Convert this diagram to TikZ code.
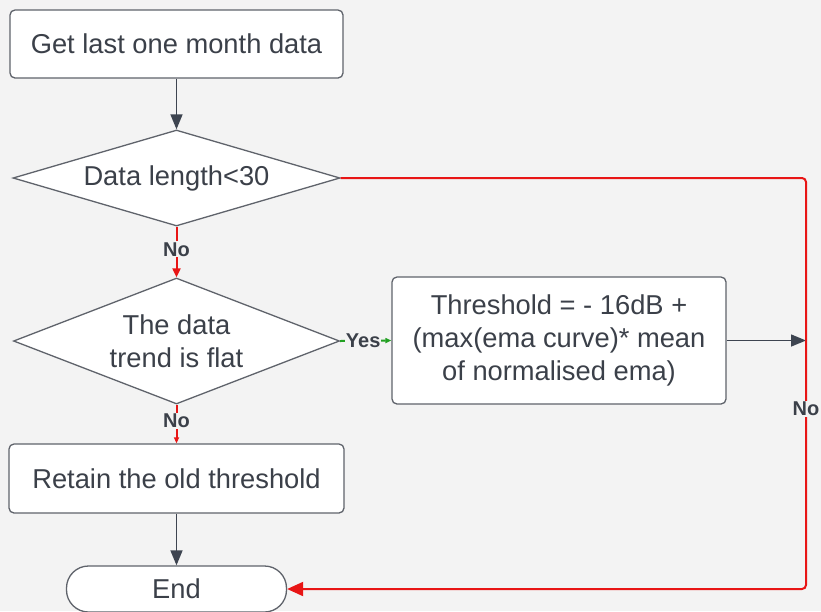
\documentclass[tikz,border=0pt]{standalone}
\usepackage{fontspec}
\setmainfont{Liberation Sans}
\usetikzlibrary{shapes.geometric,arrows.meta}
\definecolor{bg}{HTML}{F3F3F3}
\definecolor{txt}{HTML}{3B4049}
\definecolor{edge}{HTML}{5F636B}
\definecolor{darr}{HTML}{3D4450}
\definecolor{redl}{HTML}{E81515}
\definecolor{greenl}{HTML}{22A022}
\tikzset{
  proc/.style={draw=edge, line width=1.3pt, fill=white, rounded corners=5pt, text=txt, align=center,
    font=\fontsize{27.3}{33}\selectfont, inner sep=0pt},
  dec/.style={draw=edge, line width=1.3pt, fill=white, diamond, text=txt, align=center,
    font=\fontsize{27.3}{33}\selectfont, inner sep=0pt, aspect=3},
  term/.style={draw=edge, line width=1.3pt, fill=white, rounded corners=22pt, text=txt,
    font=\fontsize{27.3}{33}\selectfont, inner sep=0pt},
  darkarrow/.style={draw=darr, line width=1.5pt, -{Triangle[length=15pt,width=12pt]}},
  redarrow/.style={draw=redl, line width=2pt},
  lbl/.style={fill=bg, text=txt, font=\fontsize{20}{22}\selectfont\bfseries, inner sep=1pt}
}
\begin{document}
\begin{tikzpicture}[x=1pt,y=-1pt]
\useasboundingbox[fill=bg] (0,0) rectangle (821,611);
\begin{scope}
\clip (0,0) rectangle (821,611);
\node[proc, minimum width=333pt, minimum height=68pt] (get) at (176.5,44) {Get last one month data};
\node[dec, minimum width=327pt, minimum height=96pt] (len) at (176.5,178) {Data length<30};
\node[dec, minimum width=326pt, minimum height=126pt] (flat) at (176.5,341) {The data\\trend is flat};
\node[proc, minimum width=334pt, minimum height=127pt] (thr) at (559,340.5) {Threshold = - 16dB +\\(max(ema curve)* mean\\of normalised ema)};
\node[proc, minimum width=335pt, minimum height=69pt] (ret) at (176.5,478.5) {Retain the old threshold};
\node[term, minimum width=220pt, minimum height=46pt] (end) at (176.5,589) {End};
\coordinate (rc) at (806,340.5);

\draw[darkarrow] (get) -- (len);
\draw[darkarrow] (ret) -- (end);
\draw[darkarrow] (thr) -- (rc);

\draw[redarrow, -{Triangle[length=9pt,width=8pt]}] (len) -- node[lbl, pos=0.45] {No} (flat);
\draw[redarrow, -{Triangle[length=6pt,width=5pt]}] (flat) -- node[lbl, pos=0.42] {No} (ret);
\draw[draw=greenl, line width=2pt, -{Triangle[length=6pt,width=5pt]}] (flat.east) -- node[lbl, pos=0.45] {Yes} (thr.west);
\draw[redarrow, rounded corners=4pt, -{Triangle[length=16pt,width=14pt]}] (len.east) -- (806,178) -- node[lbl, pos=0.562] {No} (806,589) -- (end.east);
\end{scope}
\end{tikzpicture}
\end{document}
